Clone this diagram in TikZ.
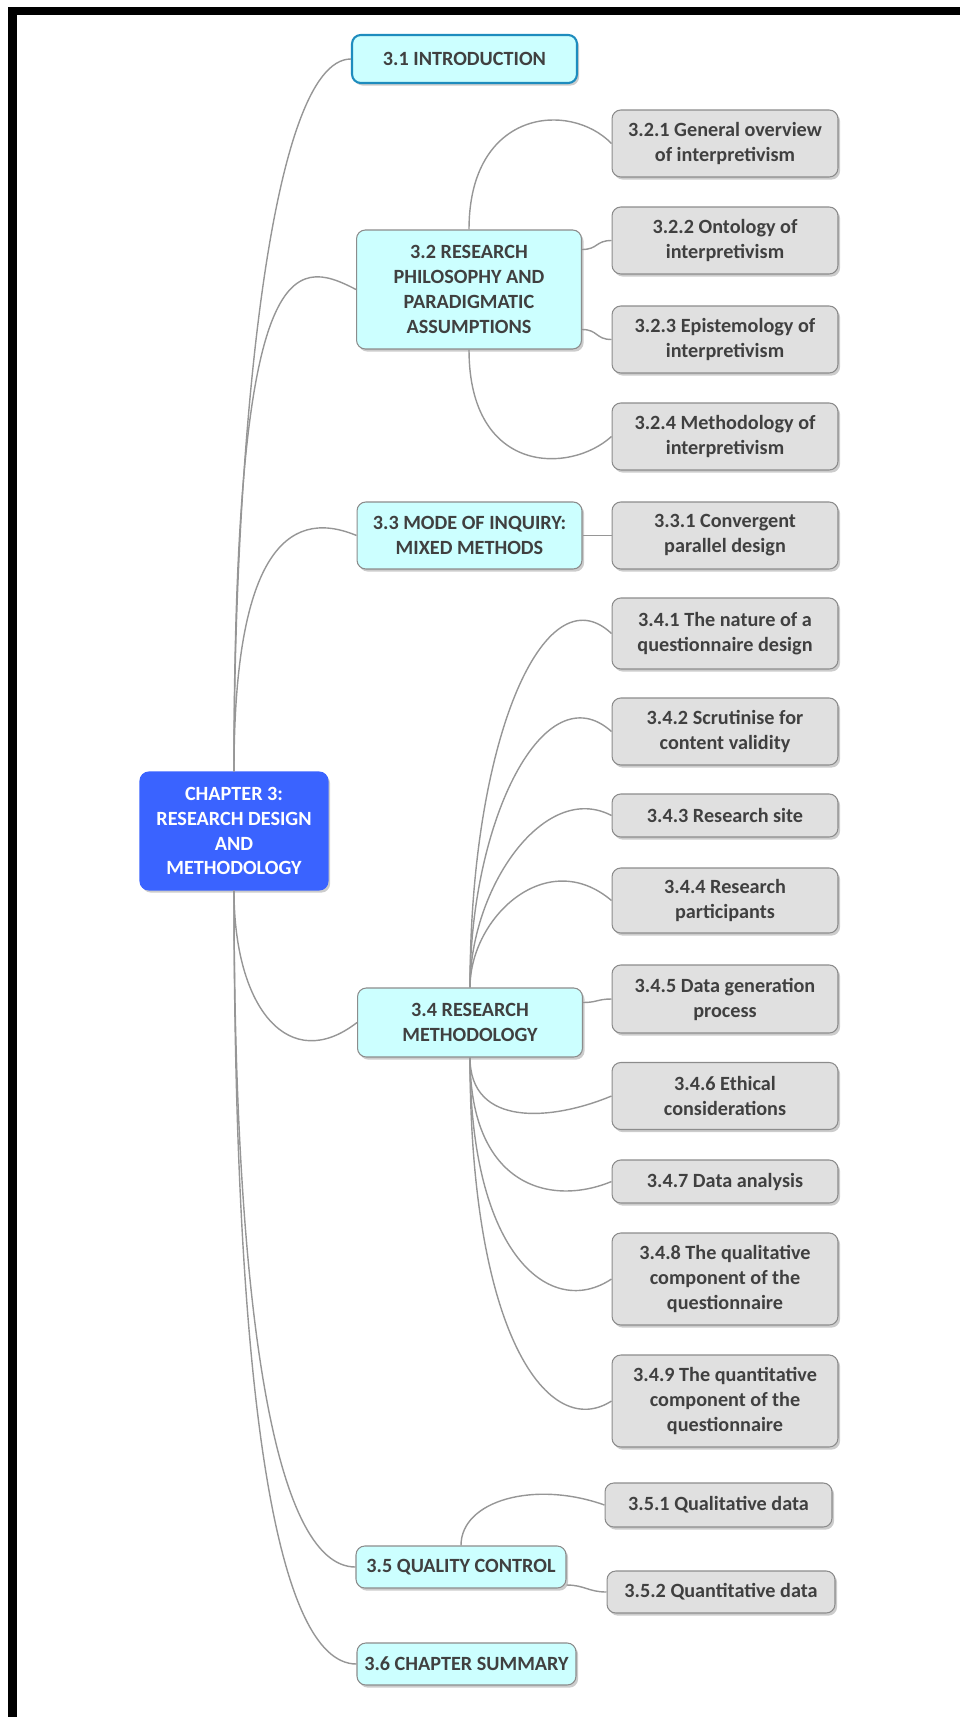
\documentclass[tikz,border=0pt]{standalone}
\usepackage{fontspec}
\setmainfont{Carlito}
\usetikzlibrary{calc,shadows}
\definecolor{mainfill}{RGB}{204,255,255}
\definecolor{subfill}{RGB}{224,224,224}
\definecolor{rootfill}{RGB}{58,99,255}
\definecolor{boxline}{RGB}{140,140,140}
\definecolor{linkline}{RGB}{150,150,150}
\definecolor{labeltext}{RGB}{64,64,64}
\definecolor{selline}{RGB}{30,140,190}

\begin{document}
\begin{tikzpicture}[x=0.02cm,y=-0.02cm,
    every node/.style={font=\fontsize{11.5}{14.2}\selectfont\bfseries, align=center, inner sep=1pt},
    mapbox/.style={rounded corners=5pt, draw=boxline, line width=0.6pt, text=labeltext,
      drop shadow={shadow xshift=1.2pt, shadow yshift=-1.5pt, fill=black!40}},
    rootbox/.style={mapbox, fill=rootfill, draw=rootfill, text=white, minimum width=3.76cm, minimum height=2.36cm},
    mainbox/.style={mapbox, fill=mainfill, minimum width=4.5cm, minimum height=1.34cm},
    subbox/.style={mapbox, fill=subfill, minimum width=4.52cm, minimum height=1.34cm},
    branchline/.style={draw=linkline, line width=0.8pt}]
    \useasboundingbox (0,0) rectangle (960,1717);
    % frame
    \fill (8,7) rectangle (960,15);
    \fill (8,7) rectangle (17,1717);

    \node[rootbox] (root) at (234,831) {CHAPTER 3:\\RESEARCH DESIGN\\AND\\METHODOLOGY};

    \node[mainbox, minimum height=0.96cm, draw=selline, line width=1.2pt] (s31) at (464.5,59) {3.1 INTRODUCTION};
    \node[mainbox, minimum height=2.38cm] (s32) at (469,289.5) {3.2 RESEARCH\\PHILOSOPHY AND\\PARADIGMATIC\\ASSUMPTIONS};
    \node[mainbox] (s33) at (469.5,535.5) {3.3 MODE OF INQUIRY:\\MIXED METHODS};
    \node[mainbox, minimum height=1.38cm] (s34) at (470,1022.5) {3.4 RESEARCH\\METHODOLOGY};
    \node[mainbox, minimum width=4.2cm, minimum height=0.84cm] (s35) at (461,1567) {3.5 QUALITY CONTROL};
    \node[mainbox, minimum width=4.38cm, minimum height=0.84cm] (s36) at (466.5,1664) {3.6 CHAPTER SUMMARY};

    \node[subbox] (s321) at (725,143.5) {3.2.1 General overview\\of interpretivism};
    \node[subbox] (s322) at (725,240.5) {3.2.2 Ontology of\\interpretivism};
    \node[subbox] (s323) at (725,339.5) {3.2.3 Epistemology of\\interpretivism};
    \node[subbox] (s324) at (725,436.5) {3.2.4 Methodology of\\interpretivism};
    \node[subbox] (s331) at (725,535.5) {3.3.1 Convergent\\parallel design};
    \node[subbox, minimum height=1.42cm] (s341) at (725,633.5) {3.4.1 The nature of a\\questionnaire design};
    \node[subbox] (s342) at (725,731.5) {3.4.2 Scrutinise for\\content validity};
    \node[subbox, minimum height=0.86cm] (s343) at (725,815.5) {3.4.3 Research site};
    \node[subbox, minimum height=1.3cm] (s344) at (725,900.5) {3.4.4 Research\\participants};
    \node[subbox, minimum height=1.36cm] (s345) at (725,999) {3.4.5 Data generation\\process};
    \node[subbox] (s346) at (725,1096) {3.4.6 Ethical\\considerations};
    \node[subbox, minimum height=0.86cm] (s347) at (725,1181.5) {3.4.7 Data analysis};
    \node[subbox, minimum height=1.84cm] (s348) at (725,1279) {3.4.8 The qualitative\\component of the\\questionnaire};
    \node[subbox, minimum height=1.84cm] (s349) at (725,1401) {3.4.9 The quantitative\\component of the\\questionnaire};
    \node[subbox, minimum width=4.54cm, minimum height=0.88cm] (s351) at (718.5,1505) {3.5.1 Qualitative data};
    \node[subbox, minimum width=4.56cm, minimum height=0.84cm] (s352) at (721,1592) {3.5.2 Quantitative data};

    % from the centre
    \draw[branchline] (root.north) .. controls +(0,-322) and +(-82,0) .. (s31.west);
    \draw[branchline] (root.north) .. controls +(0,-522) and +(-63,-33) .. (s32.west);
    \draw[branchline] (root.north) .. controls +(0,-212) and +(-72,-30) .. (s33.west);
    \draw[branchline] (root.south) .. controls +(0,120) and +(-67,52) .. (s34.west);
    \draw[branchline] (root.south) .. controls +(0,410) and +(-83,0) .. (s35.west);
    \draw[branchline] (root.south) .. controls +(0,490) and +(-83,0) .. (s36.west);

    \draw[branchline] (s32.north) .. controls +(0,-120) and +(-42,-43) .. (s321.west);
    \draw[branchline] ($(s32.east)+(0,-40)$) .. controls +(16,0) and +(-16,0) .. (s322.west);
    \draw[branchline] ($(s32.east)+(0,40)$) .. controls +(16,0) and +(-16,0) .. (s323.west);
    \draw[branchline] (s32.south) .. controls +(0,125) and +(-42,38) .. (s324.west);

    \draw[branchline] (s33.east) -- (s331.west);

    \draw[branchline] (s34.north) .. controls +(0,-248) and +(-67,-63) .. (s341.west);
    \draw[branchline] (s34.north) .. controls +(0,-168) and +(-67,-60) .. (s342.west);
    \draw[branchline] (s34.north) .. controls +(0,-100) and +(-67,-35) .. (s343.west);
    \draw[branchline] (s34.north) .. controls +(0,-70) and +(-65,-55) .. (s344.west);
    \draw[branchline] ($(s34.east)+(0,-20)$) .. controls +(14,0) and +(-14,0) .. (s345.west);
    \draw[branchline] (s34.south) .. controls +(0,70) and +(-60,25) .. (s346.west);
    \draw[branchline] (s34.south) .. controls +(0,130) and +(-60,25) .. (s347.west);
    \draw[branchline] (s34.south) .. controls +(0,200) and +(-60,40) .. (s348.west);
    \draw[branchline] (s34.south) .. controls +(0,280) and +(-62,40) .. (s349.west);

    \draw[branchline] (s35.north) .. controls +(0,-45) and +(-70,-25) .. (s351.west);
    \draw[branchline] ($(s35.east)+(0,18)$) .. controls +(18,0) and +(-18,0) .. (s352.west);
\end{tikzpicture}
\end{document}
